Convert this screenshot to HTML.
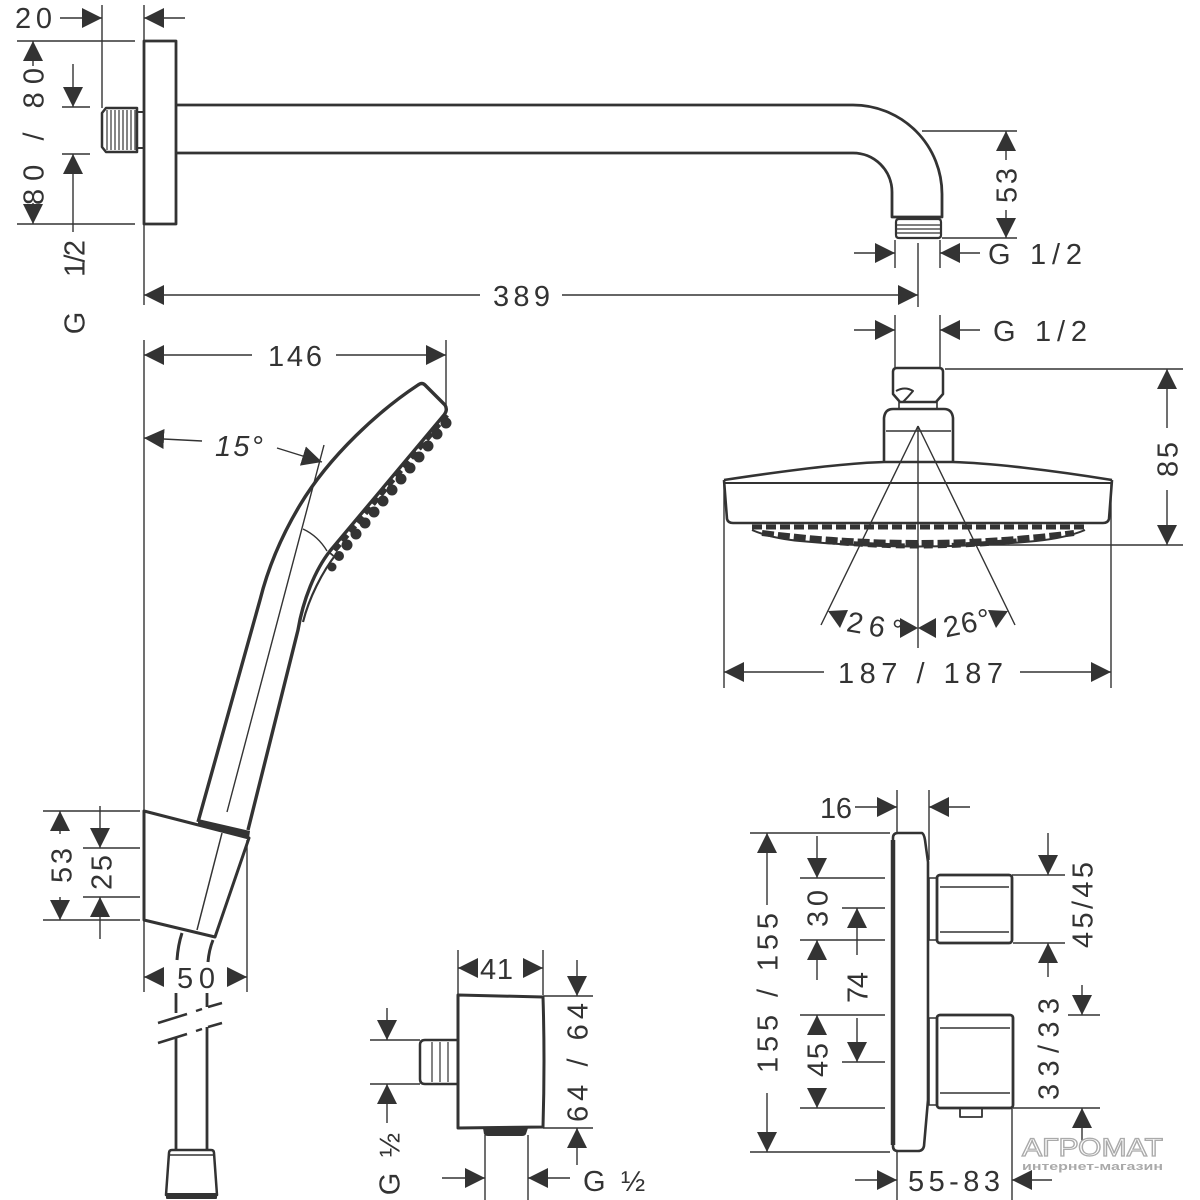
<!DOCTYPE html>
<html><head><meta charset="utf-8"><style>html,body{margin:0;padding:0;background:#fff}svg{display:block}</style></head>
<body>
<svg width="1200" height="1200" viewBox="0 0 1200 1200" xmlns="http://www.w3.org/2000/svg">
<defs>
<marker id="a" viewBox="0 0 20 22" refX="20" refY="11" markerWidth="20" markerHeight="22" markerUnits="userSpaceOnUse" orient="auto">
<path d="M0,1 L20,11 L0,21 Z" fill="#333" stroke="none"/>
</marker>
</defs>
<rect width="1200" height="1200" fill="#fff"/>

<!-- DIMENSION LINES -->
<g fill="none" stroke="#333" stroke-width="1.4">
<!-- top arm -->
<line x1="102" y1="5" x2="102" y2="108"/>
<line x1="144" y1="5" x2="144" y2="305"/>
<line x1="60" y1="18" x2="102" y2="18" marker-end="url(#a)"/>
<line x1="185" y1="18" x2="144" y2="18" marker-end="url(#a)"/>
<line x1="17" y1="41" x2="135" y2="41"/>
<line x1="17" y1="224" x2="135" y2="224"/>
<line x1="62" y1="107" x2="90" y2="107"/>
<line x1="62" y1="154" x2="90" y2="154"/>
<line x1="33" y1="66" x2="33" y2="41" marker-end="url(#a)"/>
<line x1="33" y1="203" x2="33" y2="224" marker-end="url(#a)"/>
<line x1="73" y1="64" x2="73" y2="107" marker-end="url(#a)"/>
<line x1="73" y1="232" x2="73" y2="154" marker-end="url(#a)"/>
<line x1="922" y1="131" x2="1017" y2="131"/>
<line x1="942" y1="238" x2="1017" y2="238"/>
<line x1="1006" y1="160" x2="1006" y2="131" marker-end="url(#a)"/>
<line x1="1006" y1="210" x2="1006" y2="238" marker-end="url(#a)"/>
<line x1="895" y1="240" x2="895" y2="268"/>
<line x1="940" y1="240" x2="940" y2="268"/>
<line x1="854" y1="253" x2="895" y2="253" marker-end="url(#a)"/>
<line x1="980" y1="253" x2="940" y2="253" marker-end="url(#a)"/>
<line x1="918" y1="243" x2="918" y2="307"/>
<line x1="480" y1="295" x2="144" y2="295" marker-end="url(#a)"/>
<line x1="562" y1="295" x2="918" y2="295" marker-end="url(#a)"/>

<!-- overhead -->
<line x1="895" y1="315" x2="895" y2="368"/>
<line x1="940" y1="315" x2="940" y2="368"/>
<line x1="854" y1="330" x2="895" y2="330" marker-end="url(#a)"/>
<line x1="980" y1="330" x2="940" y2="330" marker-end="url(#a)"/>
<line x1="945" y1="369" x2="1183" y2="369"/>
<line x1="960" y1="545" x2="1183" y2="545"/>
<line x1="1167" y1="428" x2="1167" y2="369" marker-end="url(#a)"/>
<line x1="1167" y1="490" x2="1167" y2="545" marker-end="url(#a)"/>
<line x1="724" y1="482" x2="724" y2="688"/>
<line x1="1111" y1="482" x2="1111" y2="688"/>
<line x1="824" y1="672" x2="724" y2="672" marker-end="url(#a)"/>
<line x1="1020" y1="672" x2="1111" y2="672" marker-end="url(#a)"/>
<line x1="918" y1="426" x2="821" y2="625"/>
<line x1="918" y1="426" x2="1015" y2="625"/>
<line x1="918" y1="426" x2="918" y2="648"/>

<!-- hand shower -->
<line x1="144" y1="340" x2="144" y2="992"/>
<line x1="446" y1="340" x2="446" y2="405"/>
<line x1="252" y1="355" x2="144" y2="355" marker-end="url(#a)"/>
<line x1="336" y1="355" x2="446" y2="355" marker-end="url(#a)"/>
<line x1="202" y1="441" x2="144" y2="438" marker-end="url(#a)"/>
<line x1="277" y1="448" x2="322" y2="462" marker-end="url(#a)"/>
<line x1="324" y1="445" x2="227" y2="812"/>
<path d="M303 529 Q318 536 327 551"/>

<!-- holder dims -->
<line x1="43" y1="811" x2="140" y2="811"/>
<line x1="83" y1="848" x2="140" y2="848"/>
<line x1="83" y1="897" x2="140" y2="897"/>
<line x1="43" y1="920" x2="140" y2="920"/>
<line x1="60" y1="834" x2="60" y2="811" marker-end="url(#a)"/>
<line x1="60" y1="897" x2="60" y2="920" marker-end="url(#a)"/>
<line x1="100" y1="806" x2="100" y2="848" marker-end="url(#a)"/>
<line x1="100" y1="939" x2="100" y2="897" marker-end="url(#a)"/>
<line x1="247" y1="840" x2="247" y2="992"/>
<line x1="164" y1="977" x2="144" y2="977" marker-end="url(#a)"/>
<line x1="228" y1="977" x2="247" y2="977" marker-end="url(#a)"/>

<!-- wall outlet -->
<line x1="458" y1="950" x2="458" y2="995"/>
<line x1="543" y1="950" x2="543" y2="995"/>
<line x1="477" y1="968" x2="458" y2="968" marker-end="url(#a)"/>
<line x1="524" y1="968" x2="543" y2="968" marker-end="url(#a)"/>
<line x1="543" y1="996" x2="593" y2="996"/>
<line x1="543" y1="1128" x2="593" y2="1128"/>
<line x1="577" y1="960" x2="577" y2="996" marker-end="url(#a)"/>
<line x1="577" y1="1165" x2="577" y2="1128" marker-end="url(#a)"/>
<line x1="370" y1="1040" x2="420" y2="1040"/>
<line x1="370" y1="1084" x2="420" y2="1084"/>
<line x1="387" y1="1008" x2="387" y2="1040" marker-end="url(#a)"/>
<line x1="387" y1="1123" x2="387" y2="1084" marker-end="url(#a)"/>
<line x1="485" y1="1135" x2="485" y2="1200"/>
<line x1="528" y1="1135" x2="528" y2="1200"/>
<line x1="442" y1="1178" x2="485" y2="1178" marker-end="url(#a)"/>
<line x1="570" y1="1178" x2="528" y2="1178" marker-end="url(#a)"/>

<!-- thermostat -->
<line x1="897" y1="790" x2="897" y2="833"/>
<line x1="929" y1="790" x2="929" y2="860"/>
<line x1="855" y1="807" x2="897" y2="807" marker-end="url(#a)"/>
<line x1="970" y1="807" x2="929" y2="807" marker-end="url(#a)"/>
<line x1="750" y1="833" x2="890" y2="833"/>
<line x1="800" y1="878" x2="885" y2="878"/>
<line x1="842" y1="908" x2="885" y2="908"/>
<line x1="800" y1="940" x2="885" y2="940"/>
<line x1="800" y1="1015" x2="885" y2="1015"/>
<line x1="842" y1="1062" x2="885" y2="1062"/>
<line x1="800" y1="1108" x2="885" y2="1108"/>
<line x1="750" y1="1152" x2="890" y2="1152"/>
<line x1="767" y1="905" x2="767" y2="833" marker-end="url(#a)"/>
<line x1="767" y1="1093" x2="767" y2="1152" marker-end="url(#a)"/>
<line x1="817" y1="836" x2="817" y2="878" marker-end="url(#a)"/>
<line x1="817" y1="980" x2="817" y2="940" marker-end="url(#a)"/>
<line x1="817" y1="1035" x2="817" y2="1015" marker-end="url(#a)"/>
<line x1="817" y1="1088" x2="817" y2="1108" marker-end="url(#a)"/>
<line x1="857" y1="955" x2="857" y2="908" marker-end="url(#a)"/>
<line x1="857" y1="1018" x2="857" y2="1062" marker-end="url(#a)"/>
<line x1="1012" y1="875" x2="1065" y2="875"/>
<line x1="1013" y1="943" x2="1065" y2="943"/>
<line x1="1068" y1="1015" x2="1100" y2="1015"/>
<line x1="1013" y1="1108" x2="1100" y2="1108"/>
<line x1="1048" y1="833" x2="1048" y2="875" marker-end="url(#a)"/>
<line x1="1048" y1="977" x2="1048" y2="943" marker-end="url(#a)"/>
<line x1="1082" y1="985" x2="1082" y2="1015" marker-end="url(#a)"/>
<line x1="1082" y1="1150" x2="1082" y2="1108" marker-end="url(#a)"/>
<line x1="897" y1="1151" x2="897" y2="1200"/>
<line x1="1012" y1="1108" x2="1012" y2="1200"/>
<line x1="855" y1="1180" x2="897" y2="1180" marker-end="url(#a)"/>
<line x1="1052" y1="1180" x2="1012" y2="1180" marker-end="url(#a)"/>
</g>

<!-- 26 deg arrowheads -->
<g fill="#333">
<polygon points="828,611 848,610 840,628"/>
<polygon points="1008,611 988,610 996,628"/>
<polygon points="918,628 900,618 900,638"/>
<polygon points="918,628 936,618 936,638"/>
</g>

<!-- OBJECTS -->
<g fill="none" stroke="#333" stroke-width="2.8" stroke-linejoin="round">
<!-- arm -->
<rect x="144" y="41" width="32" height="183"/>
<path d="M176 105 L853 105 A89 89 0 0 1 942 194 L942 217 L892 217 L892 192 A39 39 0 0 0 853 153 L176 153"/>
<path stroke-width="2.2" d="M899 219 L938 219 Q941 219 941 222 L941 235 Q941 238 938 238 L899 238 Q896 238 896 235 L896 222 Q896 219 899 219 Z"/>
<path stroke-width="2.5" d="M106 108 L137 108 L137 152 L106 152 L102 147 L102 113 Z"/>
<rect x="137" y="112" width="7" height="36" stroke-width="2"/>

<!-- overhead shower -->
<path stroke-width="2.5" d="M893 372 Q893 368 897 368 L939 368 Q943 368 943 372 L943 394 L936 402 L900 402 L893 394 Z"/>
<rect x="899" y="402" width="38" height="7" stroke-width="1.6"/>
<path stroke-width="2" d="M896 391 Q905 386 913 391 Q908 397 903 402"/>
<path stroke-width="2.6" d="M884 462 L884 418 Q885 409 893 409 L944 409 Q952 409 953 418 L953 462"/>
<line x1="886" y1="431" x2="951" y2="431" stroke-width="1.4"/>
<path stroke-width="2.6" d="M724 480 C790 470 850 463 884 462 L953 462 C990 463 1050 470 1112 480"/>
<path stroke-width="2.6" d="M724 480 L727 519 Q728 523 733 523 L1103 523 Q1108 523 1109 519 L1112 480"/>
<line x1="725" y1="483" x2="1111" y2="483" stroke-width="2"/>

<!-- hand shower -->
<path stroke-width="3.4" d="M198 822 L260 600 C268 568 282 535 300 505 C330 455 380 410 418 385 Q422 382 425 385 L445 405 Q448 410 444 415 L330 551 C315 570 303 600 298 630 L248 830"/>
<path stroke-width="2.2" d="M337 553 C322 572 309 598 303 622"/>

<!-- holder -->
<path stroke-width="3" d="M144 811 L249 838 L215 937 L144 920 Z"/>
<line x1="222" y1="833" x2="197" y2="930" stroke-width="1.5"/>
<path stroke-width="3" d="M182 933 Q178 945 177 960"/>
<path stroke-width="3" d="M213 940 Q209 950 208 962"/>
<line x1="176" y1="993" x2="176" y2="1013"/>
<line x1="207" y1="993" x2="207" y2="1007"/>
<line x1="176" y1="1038" x2="176" y2="1150"/>
<line x1="207" y1="1027" x2="207" y2="1150"/>
<path stroke-width="2.5" d="M172 1150 L211 1150 Q214 1150 214 1153 L217 1195 L166 1195 L169 1153 Q169 1150 172 1150 Z"/>
<line x1="170" y1="1155" x2="213" y2="1155" stroke-width="1.4"/>

<!-- wall outlet -->
<path stroke-width="3" d="M458 995 L543 997 Q545 1060 543 1127 L458 1128 Z"/>
<path stroke-width="2.5" d="M425 1040 L458 1040 L458 1084 L425 1084 Q420 1084 420 1079 L420 1045 Q420 1040 425 1040 Z"/>

<!-- thermostat -->
<path stroke-width="2.6" d="M893 838 Q893 833 898 833 L922 833 Q924 834 925 840 L928 862 L928 1100 L924 1146 Q923 1151 918 1151 L898 1151 Q893 1151 893 1146 Z"/>
<line x1="893" y1="840" x2="893" y2="1145" stroke-width="4.5"/>
<rect x="929" y="878" width="8" height="62" stroke-width="1.6"/>
<rect x="929" y="1018" width="8" height="87" stroke-width="1.6"/>
<rect x="937" y="875" width="75" height="68" rx="3"/>
<line x1="940" y1="887" x2="1009" y2="887" stroke-width="1.5"/>
<line x1="940" y1="932" x2="1009" y2="932" stroke-width="1.5"/>
<rect x="937" y="1015" width="76" height="93" rx="3"/>
<line x1="940" y1="1028" x2="1010" y2="1028" stroke-width="1.5"/>
<line x1="940" y1="1093" x2="1010" y2="1093" stroke-width="1.5"/>
<rect x="960" y="1108" width="22" height="9" stroke-width="1.8"/>
</g>

<!-- thread stripes and small details -->
<g stroke="#333" stroke-width="1.2">
<line x1="107" y1="110" x2="107" y2="150"/><line x1="111" y1="110" x2="111" y2="150"/>
<line x1="115" y1="110" x2="115" y2="150"/><line x1="119" y1="110" x2="119" y2="150"/>
<line x1="123" y1="110" x2="123" y2="150"/><line x1="127" y1="110" x2="127" y2="150"/>
<line x1="131" y1="110" x2="131" y2="150"/><line x1="135" y1="110" x2="135" y2="150"/>
<line x1="897" y1="225" x2="940" y2="225"/><line x1="897" y1="229" x2="940" y2="229"/>
<line x1="897" y1="233" x2="940" y2="233"/>
<line x1="432" y1="1042" x2="432" y2="1082"/><line x1="440" y1="1042" x2="440" y2="1082"/>
<line x1="448" y1="1042" x2="448" y2="1082"/>
</g>

<!-- filled bits -->
<g fill="#333" stroke="none">
<path d="M483 1128 L528 1128 L526 1134 Q525 1136 522 1136 L488 1136 Q485 1136 484 1134 Z"/>
<polygon points="198,819 250,831 249,838 198,826"/>
<rect x="166" y="1193" width="51" height="6" rx="1"/>
</g>

<!-- break lines -->
<g stroke="#333" stroke-width="2.5">
<line x1="158" y1="1023" x2="187" y2="1014"/>
<line x1="196" y1="1011" x2="202" y2="1009"/>
<line x1="208" y1="1007" x2="222" y2="1003"/>
<line x1="158" y1="1043" x2="187" y2="1034"/>
<line x1="196" y1="1031" x2="202" y2="1029"/>
<line x1="208" y1="1027" x2="222" y2="1023"/>
</g>

<!-- overhead nozzles -->
<g fill="none" stroke="#333">
<line x1="752" y1="527" x2="1085" y2="527" stroke-width="5" stroke-dasharray="10 4"/>
<path d="M762 533 Q918 553 1074 533" stroke-width="6" stroke-dasharray="12 4"/>
<path d="M812 540 Q918 552 1024 540" stroke-width="5" stroke-dasharray="9 5"/>
<path d="M752 530 Q770 538 800 541 Q918 552 1036 541 Q1066 538 1085 530" stroke-width="2"/>
</g>

<!-- hand shower nozzles -->
<g fill="#333">
<line x1="447" y1="415" x2="331" y2="555" stroke="#333" stroke-width="5" stroke-dasharray="8 4"/>
<circle cx="446" cy="423" r="5.5"/><circle cx="437" cy="434" r="5.5"/>
<circle cx="428" cy="446" r="5.5"/><circle cx="419" cy="457" r="5.5"/>
<circle cx="410" cy="468" r="5.5"/><circle cx="401" cy="479" r="5.5"/>
<circle cx="392" cy="490" r="5.5"/><circle cx="383" cy="501" r="5.5"/>
<circle cx="374" cy="512" r="5.5"/><circle cx="365" cy="523" r="5.5"/>
<circle cx="356" cy="534" r="5.5"/><circle cx="347" cy="545" r="5.5"/>
<circle cx="339" cy="556" r="5"/><circle cx="332" cy="567" r="4.5"/>
</g>

<!-- TEXT -->
<g font-family="'Liberation Sans', sans-serif" font-size="29" fill="#333">
<text x="15" y="28" textLength="37" lengthAdjust="spacing">20</text>
<text x="493" y="306" textLength="57" lengthAdjust="spacing">389</text>
<text x="988" y="264">G</text>
<text x="1030" y="264" textLength="52" lengthAdjust="spacing">1/2</text>
<text x="993" y="341">G</text>
<text x="1035" y="341" textLength="52" lengthAdjust="spacing">1/2</text>
<text x="268" y="366" textLength="54" lengthAdjust="spacing">146</text>
<text x="215" y="456" font-style="italic" textLength="48" lengthAdjust="spacing">15°</text>
<text x="838" y="683" textLength="165" lengthAdjust="spacing">187 / 187</text>
<text x="847" y="636" textLength="56" lengthAdjust="spacing" transform="rotate(10 875 625)">26°</text>
<text x="943" y="633" textLength="47" lengthAdjust="spacing" transform="rotate(-12 966 622)">26°</text>
<text x="177" y="988" textLength="38" lengthAdjust="spacing">50</text>
<text x="480" y="979" textLength="33" lengthAdjust="spacing">41</text>
<text x="583" y="1191">G</text>
<text x="621" y="1191">½</text>
<text x="820" y="818" textLength="32" lengthAdjust="spacing">16</text>
<text x="908" y="1191" textLength="92" lengthAdjust="spacing">55-83</text>

<text transform="translate(33,136.5) rotate(-90)" y="10.4" text-anchor="middle" textLength="137" lengthAdjust="spacing">80 / 80</text>
<text transform="translate(74,323) rotate(-90)" y="10.4" text-anchor="middle">G</text>
<text transform="translate(74,258.5) rotate(-90)" y="10.4" text-anchor="middle" textLength="37" lengthAdjust="spacing">1/2</text>
<text transform="translate(1006,185.5) rotate(-90)" y="10.4" text-anchor="middle" textLength="35" lengthAdjust="spacing">53</text>
<text transform="translate(1167,459.5) rotate(-90)" y="10.4" text-anchor="middle" textLength="35" lengthAdjust="spacing">85</text>
<text transform="translate(61,865.5) rotate(-90)" y="10.4" text-anchor="middle" textLength="35" lengthAdjust="spacing">53</text>
<text transform="translate(101,872.5) rotate(-90)" y="10.4" text-anchor="middle" textLength="35" lengthAdjust="spacing">25</text>
<text transform="translate(577,1062.5) rotate(-90)" y="10.4" text-anchor="middle" textLength="119" lengthAdjust="spacing">64 / 64</text>
<text transform="translate(389,1145) rotate(-90)" y="10.4" text-anchor="middle">½</text>
<text transform="translate(389,1184) rotate(-90)" y="10.4" text-anchor="middle">G</text>
<text transform="translate(767,993) rotate(-90)" y="10.4" text-anchor="middle" textLength="160" lengthAdjust="spacing">155 / 155</text>
<text transform="translate(817,908.5) rotate(-90)" y="10.4" text-anchor="middle" textLength="37" lengthAdjust="spacing">30</text>
<text transform="translate(857,987.5) rotate(-90)" y="10.4" text-anchor="middle" textLength="31" lengthAdjust="spacing">74</text>
<text transform="translate(817,1060) rotate(-90)" y="10.4" text-anchor="middle" textLength="34" lengthAdjust="spacing">45</text>
<text transform="translate(1082,905) rotate(-90)" y="10.4" text-anchor="middle" textLength="86" lengthAdjust="spacing">45/45</text>
<text transform="translate(1048,1049) rotate(-90)" y="10.4" text-anchor="middle" textLength="102" lengthAdjust="spacing">33/33</text>
</g>

<!-- watermark -->
<g font-family="'Liberation Sans', 'DejaVu Sans', sans-serif">
<text x="1022" y="1156" font-size="25" textLength="141" lengthAdjust="spacingAndGlyphs" fill="#fff" stroke="#aaa" stroke-width="1.2">АГРОМАТ</text>
<text x="1022" y="1170" font-size="11" font-weight="bold" textLength="141" lengthAdjust="spacingAndGlyphs" fill="#aaa">интернет-магазин</text>
</g>
</svg>
</body></html>
